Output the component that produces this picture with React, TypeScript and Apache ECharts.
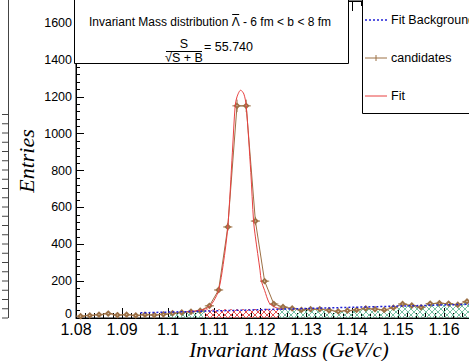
import React, { useEffect, useRef } from "react";
import * as echarts from "echarts";

// ---------- data ----------
const binCenters = [
  1.081, 1.083, 1.085, 1.087, 1.089, 1.091, 1.093, 1.095, 1.097, 1.099,
  1.101, 1.103, 1.105, 1.107, 1.109, 1.111, 1.113, 1.115, 1.117, 1.119,
  1.121, 1.123, 1.125, 1.127, 1.129, 1.131, 1.133, 1.135, 1.137, 1.139,
  1.141, 1.143, 1.145, 1.147, 1.149, 1.151, 1.153, 1.155, 1.157, 1.159,
  1.161, 1.163, 1.165, 1.167,
];
const candidates = [
  10, 14, 18, 24, 16, 18, 14, 18, 16, 20,
  26, 30, 34, 40, 66, 152, 494, 1151, 1151, 526,
  200, 76, 60, 52, 44, 48, 48, 42, 36, 40,
  44, 52, 48, 44, 56, 76, 68, 58, 78, 80,
  78, 72, 90, 84,
];
const binHalfWidth = 0.001;

// signal window (red hatch) and sidebands (green hatch)
const leftSideband = [1.1, 1.108];
const signalWindow = [1.108, 1.124];
const signalBinCenters = [1.109, 1.111, 1.113, 1.115, 1.117, 1.119, 1.121, 1.123];
const signalBackground = [46, 47, 48, 48, 49, 49, 50, 50];

// fitted curve (signal + background)
const fitMass = [
  1.104, 1.106, 1.107, 1.108, 1.109, 1.11, 1.111, 1.112, 1.113, 1.114,
  1.1146, 1.115, 1.1158, 1.1165, 1.117, 1.118, 1.1186, 1.119, 1.12, 1.1203,
  1.121, 1.122, 1.123, 1.124, 1.125,
];
const fitValues = [
  34, 38, 42, 48, 62, 95, 150, 290, 494, 900,
  1151, 1200, 1236, 1215, 1151, 790, 526, 440, 260, 200,
  150, 82, 62, 52, 48,
];

// fit background (blue dotted)
const bkgMass = [1.094, 1.18];
const bkgValues = [28, 84];

const xMin = 1.08;
const xMax = 1.18;
const xStep = 0.01;
const xLastLabel = 1.16;
const yMin = 0;
const yMax = 1720;
const yStep = 200;

const titleBefore = "Invariant Mass distribution ";
const titleParticle = "\u039B";
const titleAfter = " - 6 fm < b < 8 fm";
const significance = "= 55.740";
const legendLabels = ["Fit Background", "candidates", "Fit"];

// ---------- helpers ----------
function stepPoints(centers: number[], values: number[], lo: number, hi: number) {
  const pts: number[][] = [];
  centers.forEach((c, i) => {
    if (c - binHalfWidth >= lo - 1e-9 && c + binHalfWidth <= hi + 1e-9) {
      pts.push([c - binHalfWidth, values[i]]);
      pts.push([c + binHalfWidth, values[i]]);
    }
  });
  return pts;
}

function makeHatch(color: string) {
  const size = 6;
  const cv = document.createElement("canvas");
  cv.width = size;
  cv.height = size;
  const ctx = cv.getContext("2d")!;
  ctx.strokeStyle = color;
  ctx.lineWidth = 1;
  ctx.beginPath();
  ctx.moveTo(0, 0);
  ctx.lineTo(size, size);
  ctx.moveTo(size, 0);
  ctx.lineTo(0, size);
  ctx.stroke();
  return { image: cv, repeat: "repeat", imageWidth: size, imageHeight: size } as any;
}

function textWidth(text: string, font: string) {
  const t = new (echarts.graphic as any).Text({ style: { text, font } });
  return t.getBoundingRect().width;
}

const BROWN = "#9c7045";
const RED = "#e84040";
const BLUE = "#2020d6";
const SANS = "'Liberation Sans', Arial, sans-serif";
const SERIF = "'Liberation Serif', 'Times New Roman', serif";

export default function App() {
  const ref = useRef<HTMLDivElement>(null);

  useEffect(() => {
    document.body.style.margin = "0";
    if (!ref.current) return;
    const chart = echarts.init(ref.current, null, { renderer: "svg" });

    const green = makeHatch("#74c0a2");
    const redH = makeHatch("#e85050");

    const histPts = binCenters.map((c, i) => [c, candidates[i]]);
    const rightSide = stepPoints(binCenters, candidates, signalWindow[1], xMax);
    const leftSide = stepPoints(binCenters, candidates, leftSideband[0], leftSideband[1]);
    const redPts = stepPoints(signalBinCenters, signalBackground, signalWindow[0], signalWindow[1]);

    // neighbouring pad fragment (frame + ticks)
    const padTicks: any[] = [];
    for (let k = 0; k <= 22; k++) {
      const y = 318 - k * 9.25;
      padTicks.push({
        type: "line",
        z: 100,
        shape: { x1: 2, y1: y, x2: 8, y2: y },
        style: { stroke: "#444", lineWidth: 1 },
        silent: true,
      });
    }

    // title line with an overlined Lambda
    const titleFont = "12px " + SANS;
    const wBefore = textWidth(titleBefore, titleFont);
    const wPart = textWidth(titleParticle, titleFont);
    const wAfter = textWidth(titleAfter, titleFont);
    const titleCenter = 210;
    const titleLeft = titleCenter - (wBefore + wPart + wAfter) / 2;
    const titleY = 22;
    const txt = (text: string, x: number, y: number, align: string, extra: any = {}) => ({
      type: "text",
      z: 101,
      x,
      y,
      silent: true,
      style: {
        text,
        fontSize: 12,
        fontFamily: SANS,
        fill: "#000",
        align,
        verticalAlign: "middle",
        ...extra,
      },
    });

    // legend rows
    const legendX0 = 365;
    const legendX1 = 387;
    const legendRows = [20, 58, 96];
    const legendElems: any[] = [
      {
        type: "rect",
        z: 100,
        shape: { x: 362.5, y: -2, width: 130, height: 115.5 },
        style: { fill: "#fff", stroke: "#000", lineWidth: 1 },
        silent: true,
      },
      {
        type: "line",
        z: 101,
        shape: { x1: legendX0, y1: legendRows[0], x2: legendX1, y2: legendRows[0] },
        style: { stroke: BLUE, lineWidth: 1.5, lineDash: [2, 2] },
        silent: true,
      },
      {
        type: "line",
        z: 101,
        shape: { x1: legendX0, y1: legendRows[1], x2: legendX1, y2: legendRows[1] },
        style: { stroke: BROWN, lineWidth: 1 },
        silent: true,
      },
      {
        type: "line",
        z: 101,
        shape: { x1: (legendX0 + legendX1) / 2, y1: legendRows[1] - 3, x2: (legendX0 + legendX1) / 2, y2: legendRows[1] + 3 },
        style: { stroke: BROWN, lineWidth: 1 },
        silent: true,
      },
      {
        type: "line",
        z: 101,
        shape: { x1: legendX0, y1: legendRows[2], x2: legendX1, y2: legendRows[2] },
        style: { stroke: RED, lineWidth: 1 },
        silent: true,
      },
      ...legendLabels.map((l, i) => txt(l, 391, legendRows[i], "left", { fontSize: 12.5 })),
    ];

    const option: any = {
      animation: false,
      backgroundColor: "#fff",
      grid: {
        left: 76,
        top: 1,
        width: 460,
        height: 317,
        show: true,
        borderColor: "#000",
        borderWidth: 1,
        containLabel: false,
        outerBoundsMode: "none",
      },
      xAxis: [
        {
          type: "value",
          min: xMin,
          max: xMax,
          interval: xStep,
          axisLine: { show: true, lineStyle: { color: "#000", width: 1 } },
          axisTick: { show: true, inside: true, length: 10, lineStyle: { color: "#000" } },
          minorTick: { show: true, splitNumber: 5, length: 5, lineStyle: { color: "#000" } },
          splitLine: { show: false },
          axisLabel: {
            fontSize: 16,
            lineHeight: 16,
            fontFamily: SANS,
            color: "#000",
            margin: 3,
            showMaxLabel: false,
            formatter: (v: number) => (v > xLastLabel + 1e-6 ? "" : String(+v.toFixed(2))),
          },
        },
        {
          type: "value",
          position: "top",
          min: xMin,
          max: xMax,
          interval: xStep,
          axisLine: { show: true, lineStyle: { color: "#000", width: 1 } },
          axisTick: { show: true, inside: true, length: 10, lineStyle: { color: "#000" } },
          minorTick: { show: true, splitNumber: 5, length: 5, lineStyle: { color: "#000" } },
          splitLine: { show: false },
          axisLabel: { show: false },
        },
      ],
      yAxis: {
        type: "value",
        min: yMin,
        max: yMax,
        interval: yStep,
        axisLine: { show: true, lineStyle: { color: "#000", width: 1 } },
        axisTick: { show: true, inside: true, length: 8, lineStyle: { color: "#000" } },
        minorTick: { show: true, splitNumber: 5, length: 4, lineStyle: { color: "#000" } },
        splitLine: { show: false },
        axisLabel: {
          fontSize: 12.5,
          lineHeight: 12.5,
          fontFamily: SANS,
          color: "#000",
          margin: 4,
          showMaxLabel: false,
          formatter: (v: number) => (v === 0 ? "{z|0}" : String(v)),
          rich: {
            z: { fontSize: 12.5, lineHeight: 12.5, fontFamily: SANS, color: "#000", padding: [0, 0, 8, 0] },
          },
        },
      },
      series: [
        {
          name: "sideband-left",
          type: "line",
          data: leftSide,
          symbol: "none",
          lineStyle: { width: 0 },
          areaStyle: { color: green, opacity: 1 },
          z: 1,
          silent: true,
        },
        {
          name: "sideband-right",
          type: "line",
          data: rightSide,
          symbol: "none",
          lineStyle: { width: 0 },
          areaStyle: { color: green, opacity: 1 },
          z: 1,
          silent: true,
        },
        {
          name: "signal-window",
          type: "line",
          data: redPts,
          symbol: "none",
          lineStyle: { width: 0 },
          areaStyle: { color: redH, opacity: 1 },
          z: 1,
          silent: true,
        },
        {
          name: "candidates",
          type: "line",
          data: histPts,
          symbol: "emptyDiamond",
          symbolSize: 4,
          color: BROWN,
          itemStyle: { color: BROWN, borderColor: BROWN, borderWidth: 1 },
          lineStyle: { color: BROWN, width: 1 },
          z: 3,
        },
        {
          name: "candidates-errors",
          type: "custom",
          data: histPts,
          clip: true,
          z: 3,
          silent: true,
          renderItem: (params: any, api: any) => {
            const x = api.value(0);
            const y = api.value(1);
            const e = Math.sqrt(y);
            const l = api.coord([x - binHalfWidth, y]);
            const r = api.coord([x + binHalfWidth, y]);
            const t = api.coord([x, y + e]);
            const b = api.coord([x, y - e]);
            return {
              type: "group",
              children: [
                { type: "line", shape: { x1: l[0], y1: l[1], x2: r[0], y2: r[1] }, style: { stroke: BROWN, lineWidth: 1 } },
                { type: "line", shape: { x1: t[0], y1: t[1], x2: b[0], y2: b[1] }, style: { stroke: BROWN, lineWidth: 1 } },
              ],
            };
          },
        },
        {
          name: "Fit",
          type: "line",
          data: fitMass.map((m, i) => [m, fitValues[i]]),
          symbol: "none",
          smooth: 0.3,
          color: RED,
          lineStyle: { color: RED, width: 1 },
          z: 4,
        },
        {
          name: "Fit Background",
          type: "line",
          data: bkgMass.map((m, i) => [m, bkgValues[i]]),
          symbol: "none",
          color: BLUE,
          lineStyle: { color: BLUE, width: 1.5, type: [2, 2] },
          z: 5,
        },
      ],
      graphic: {
        elements: [
          {
            type: "line",
            z: 100,
            shape: { x1: 8.5, y1: 0, x2: 8.5, y2: 318 },
            style: { stroke: "#444", lineWidth: 1 },
            silent: true,
          },
          ...padTicks,
          // title box
          {
            type: "rect",
            z: 100,
            shape: { x: 74.5, y: -2, width: 274, height: 65.5 },
            style: { fill: "#fff", stroke: "#000", lineWidth: 1 },
            silent: true,
          },
          txt(titleBefore, titleLeft, titleY, "left"),
          txt(titleParticle, titleLeft + wBefore, titleY, "left"),
          {
            type: "line",
            z: 101,
            shape: { x1: titleLeft + wBefore + 0.5, y1: titleY - 7.5, x2: titleLeft + wBefore + wPart - 0.5, y2: titleY - 7.5 },
            style: { stroke: "#000", lineWidth: 1 },
            silent: true,
          },
          txt(titleAfter, titleLeft + wBefore + wPart, titleY, "left"),
          txt("S", 184, 44, "center", { fontSize: 12.5 }),
          {
            type: "line",
            z: 101,
            shape: { x1: 166, y1: 51.5, x2: 202, y2: 51.5 },
            style: { stroke: "#000", lineWidth: 1 },
            silent: true,
          },
          txt("\u221AS + B", 184, 58, "center", { fontSize: 12.5 }),
          txt(significance, 204, 47, "left", { fontSize: 12.5 }),
          ...legendElems,
          // axis titles
          {
            type: "text",
            z: 101,
            x: 26,
            y: 161,
            rotation: Math.PI / 2,
            style: {
              text: "Entries",
              fontSize: 22,
              fontStyle: "italic",
              fontFamily: SERIF,
              fill: "#000",
              align: "center",
              verticalAlign: "middle",
            },
            silent: true,
          },
          {
            type: "text",
            z: 101,
            x: 289,
            y: 350,
            style: {
              text: "Invariant Mass (GeV/c)",
              fontSize: 21,
              lineHeight: 21,
              fontStyle: "italic",
              fontFamily: SERIF,
              fill: "#000",
              align: "center",
              verticalAlign: "middle",
            },
            silent: true,
          },
        ],
      },
    };

    chart.setOption(option);
    return () => chart.dispose();
  }, []);

  return <div ref={ref} style={{ width: 469, height: 361 }} />;
}
